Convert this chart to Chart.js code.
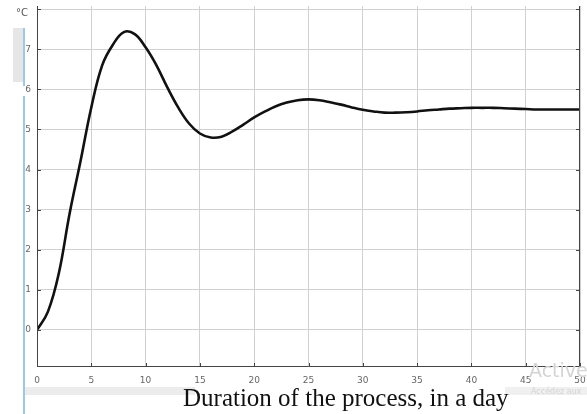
<!DOCTYPE html>
<html>
<head>
<meta charset="utf-8">
<script src="https://cdn.jsdelivr.net/npm/chart.js@4/dist/chart.umd.min.js"></script>
<style>
html,body{margin:0;padding:0;background:#fff;}
#wrap{position:relative;width:587px;height:414px;overflow:hidden;}
canvas{position:absolute;left:0;top:0;}
.lbl{position:absolute;white-space:nowrap;}
</style>
</head>
<body>
<div id="wrap">
<div style="position:absolute;left:13px;top:28px;width:10px;height:54px;background:#e6e6e6;"></div>
<div style="position:absolute;left:23px;top:28px;width:2px;height:58px;background:#9cc8ee;"></div>
<div style="position:absolute;left:23px;top:96px;width:2px;height:318px;background:#9cc8ee;"></div>
<div style="position:absolute;left:25px;top:387px;width:170px;height:8px;background:#ececec;"></div>
<div style="position:absolute;left:505px;top:387px;width:82px;height:8px;background:#f0f0f0;"></div>
<canvas id="c" width="587" height="414"></canvas>
<div class="lbl" style="left:16px;top:7px;font:10px 'DejaVu Sans',sans-serif;color:#555;">°C</div>
<div class="lbl" style="left:529px;top:359px;font:19px 'DejaVu Sans',sans-serif;color:#d4d4d4;">Activer</div>
<div class="lbl" style="left:531px;top:387px;font:8px 'DejaVu Sans',sans-serif;color:#d4d4d4;">Accédez aux</div>
<div class="lbl" style="left:183px;top:385px;font:25px/1 'Liberation Serif',serif;color:#111;">Duration of the process, in a day</div>
</div>
<script>
const days = [0,1,2,3,4,5,6,7,8,9,10,11,12,13,14,15,16,17,18,19,20,21,22,23,24,25,26,27,28,29,30,31,32,33,34,35,36,37,38,39,40,41,42,43,44,45,46,47,48,49,50];
const temperature = [0,0.45,1.4,2.9,4.2,5.55,6.6,7.12,7.43,7.38,7.05,6.6,6.05,5.55,5.15,4.9,4.8,4.82,4.95,5.12,5.3,5.45,5.58,5.67,5.73,5.75,5.73,5.68,5.62,5.55,5.49,5.45,5.42,5.42,5.43,5.45,5.48,5.5,5.52,5.53,5.54,5.54,5.54,5.53,5.52,5.51,5.5,5.5,5.5,5.5,5.5];
const xTicks = [0,5,10,15,20,25,30,35,40,45,50];
const yTicks = [0,1,2,3,4,5,6,7,8];
const yTickLabels = ['0','1','2','3','4','5','6','7',''];

const points = days.map((d,i)=>({x:d,y:temperature[i]}));

const frame = {
  id:'frame',
  afterDatasetsDraw(chart){
    const a = chart.chartArea, ctx = chart.ctx;
    const xs = chart.scales.x, ys = chart.scales.y;
    ctx.save();
    ctx.strokeStyle = '#444';
    ctx.lineWidth = 1;
    ctx.beginPath();
    ctx.moveTo(a.left+0.5, a.top); ctx.lineTo(a.left+0.5, a.bottom-0.5);
    ctx.lineTo(a.right-0.5, a.bottom-0.5); ctx.lineTo(a.right-0.5, a.top);
    ctx.stroke();
    ctx.beginPath();
    xTicks.forEach(v=>{const px=Math.round(xs.getPixelForValue(v))+0.5; ctx.moveTo(px,a.bottom); ctx.lineTo(px,a.bottom-4);});
    yTicks.forEach(v=>{const py=Math.round(ys.getPixelForValue(v))+0.5; ctx.moveTo(a.left,py); ctx.lineTo(a.left+4,py); ctx.moveTo(a.right,py); ctx.lineTo(a.right-4,py);});
    ctx.stroke();
    ctx.restore();
  }
};

new Chart(document.getElementById('c'), {
  type:'line',
  data:{datasets:[{data:points,borderColor:'#111',borderWidth:2.6,pointRadius:0,tension:0.4,fill:false}]},
  options:{
    responsive:false,animation:false,
    layout:{padding:{left:0,right:7,top:6,bottom:0}},
    plugins:{legend:{display:false},tooltip:{enabled:false}},
    scales:{
      x:{type:'linear',min:0,max:50,
        afterBuildTicks(s){s.ticks = xTicks.map(v=>({value:v}));},
        afterFit(s){s.height = 47; s.paddingLeft = 0; s.paddingRight = 0;},
        grid:{color:'#d0d0d0',lineWidth:1,drawTicks:false},
        border:{display:false},
        ticks:{padding:8,color:'#666',font:{family:'DejaVu Sans',size:9},maxRotation:0}
      },
      y:{min:-0.925,max:8.08,
        afterBuildTicks(s){s.ticks = yTicks.map(v=>({value:v}));},
        afterFit(s){s.width = 37; s.paddingTop = 0; s.paddingBottom = 0;},
        grid:{color:'#d0d0d0',lineWidth:1,drawTicks:false},
        border:{display:false},
        ticks:{padding:6,color:'#666',font:{family:'DejaVu Sans',size:9},
          callback(v){const i=yTicks.indexOf(v);return i>=0?yTickLabels[i]:'';}}
      }
    }
  },
  plugins:[frame]
});
</script>
</body>
</html>
